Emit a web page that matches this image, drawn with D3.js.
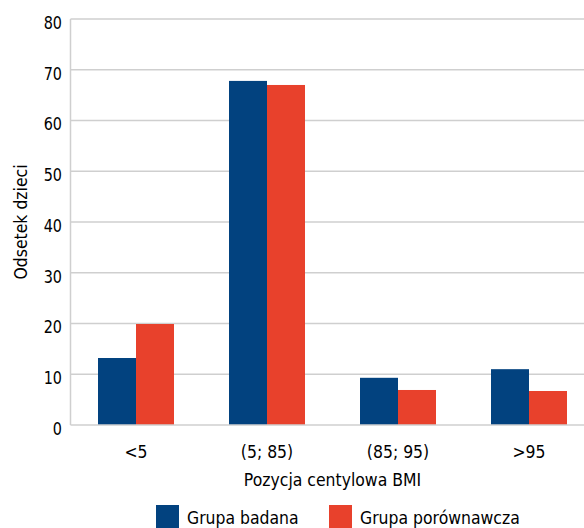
<!DOCTYPE html>
<html><head><meta charset="utf-8">
<script src="https://cdn.jsdelivr.net/npm/d3@7"></script>
<style>
html,body{margin:0;padding:0;background:#fff;}
svg{display:block;}
svg text{font-family:"DejaVu Sans",sans-serif;}
</style></head>
<body><svg id="c" width="584" height="528"></svg>
<script>
const categories = ["<5", "(5; 85)", "(85; 95)", ">95"];
const seriesNames = ["Grupa badana", "Grupa porównawcza"];
const badana = [13.2, 67.8, 9.3, 11.0];
const porownawcza = [19.9, 67.0, 6.9, 6.7];
const yTicks = [0, 10, 20, 30, 40, 50, 60, 70, 80];
const colors = ["#02427f", "#e8412c"];

const svg = d3.select("#c");
const FS = 18;
const pL = 70.5, pR = 594.5, pT = 19, pB = 425;
const x0 = d3.scaleBand().domain(categories).range([pL, pR]).paddingInner(55/131).paddingOuter(55/262);
const x1 = d3.scaleBand().domain(seriesNames).range([0, x0.bandwidth()]);
const y = d3.scaleLinear().domain([0, 80]).range([pB, pT]);

// gridlines
svg.append("g").selectAll("line").data(yTicks.filter(d => d > 0)).join("line")
  .attr("x1", pL).attr("x2", 584).attr("y1", d => y(d)).attr("y2", d => y(d))
  .attr("stroke", "#cfcfcf").attr("stroke-width", 1.5);

const data = categories.map((c, i) => ({c, vals: [badana[i], porownawcza[i]]}));
svg.append("g").selectAll("g").data(data).join("g")
  .attr("transform", d => `translate(${x0(d.c)},0)`)
  .selectAll("rect").data(d => d.vals.map((v, j) => ({v, s: seriesNames[j], j}))).join("rect")
  .attr("x", d => x1(d.s)).attr("width", x1.bandwidth())
  .attr("y", d => y(d.v)).attr("height", d => y(0) - y(d.v))
  .attr("fill", d => colors[d.j]);

// axes lines
svg.append("line").attr("x1", pL).attr("x2", pL).attr("y1", pT).attr("y2", pB)
  .attr("stroke", "#cfcfcf").attr("stroke-width", 1.5);
svg.append("line").attr("x1", pL).attr("x2", 584).attr("y1", pB).attr("y2", pB)
  .attr("stroke", "#cfcfcf").attr("stroke-width", 1.5);

// y tick labels
const yAxis = d3.axisLeft(y).tickValues(yTicks).tickSize(0).tickPadding(8.5);
const ya = svg.append("g").attr("transform", `translate(${pL},0)`).call(yAxis);
ya.select(".domain").remove();
ya.selectAll("text").attr("font-size", FS).attr("fill", "#000").attr("dy", "0.52em").classed("num", true);

// x tick labels
const xAxis = d3.axisBottom(x0).tickSize(0).tickPadding(20);
const xa = svg.append("g").attr("transform", `translate(0,${pB})`).call(xAxis);
xa.select(".domain").remove();
xa.selectAll("text").attr("font-size", FS).attr("fill", "#000");

// axis titles
svg.append("text").attr("x", (pL + pR) / 2).attr("y", 486).attr("text-anchor", "middle")
  .attr("font-size", FS).attr("fill", "#000").text("Pozycja centylowa BMI");
svg.append("text").attr("transform", `translate(27,${(pT + pB) / 2}) rotate(-90)`)
  .attr("text-anchor", "middle").attr("font-size", FS).attr("fill", "#000").text("Odsetek dzieci");

// legend
const legX = [156, 329];
const lg = svg.append("g").selectAll("g").data(seriesNames).join("g")
  .attr("transform", (d, i) => `translate(${legX[i]},505)`);
lg.append("rect").attr("width", 23).attr("height", 23).attr("fill", (d, i) => colors[i]);
lg.append("text").attr("x", 31).attr("y", 19).attr("font-size", FS).attr("fill", "#000").text(d => d);

// condense text to mimic narrow typeface
svg.selectAll("text").each(function() {
  const r = this.classList.contains("num") ? 0.8 : 0.87;
  const w = this.getComputedTextLength();
  d3.select(this).attr("textLength", w * r).attr("lengthAdjust", "spacingAndGlyphs");
});
</script></body></html>
